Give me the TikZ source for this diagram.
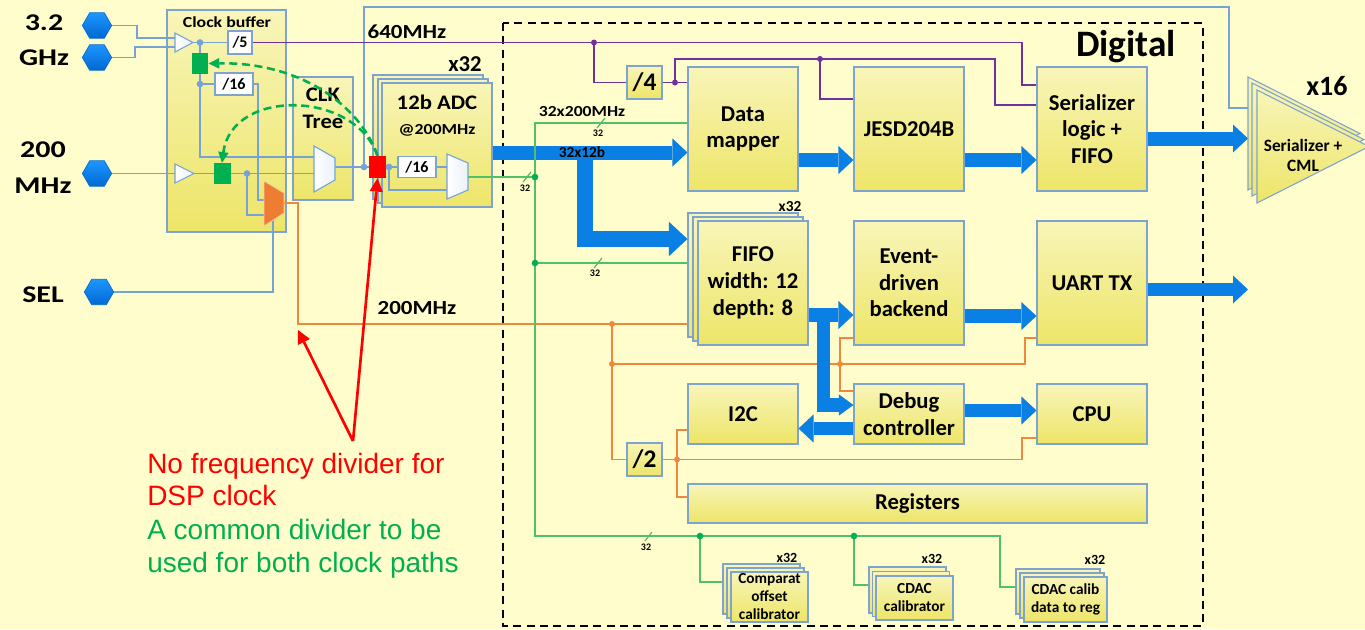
\documentclass[tikz,border=0pt]{standalone}
\usepackage{fontspec}
\setmainfont{Carlito}
\newfontfamily\arialf{Liberation Sans}
\usetikzlibrary{arrows.meta,shapes.geometric,fit,calc}

\definecolor{bgc}{RGB}{255,253,204}
\definecolor{ytop}{RGB}{248,245,185}
\definecolor{ybot}{RGB}{237,229,104}
\definecolor{boxline}{RGB}{126,163,204}
\definecolor{wireblue}{RGB}{118,163,215}
\definecolor{purp}{RGB}{112,48,160}
\definecolor{orng}{RGB}{240,135,60}
\definecolor{muxor}{RGB}{237,125,49}
\definecolor{busg}{RGB}{80,192,105}
\definecolor{dotg}{RGB}{0,176,80}
\definecolor{fatb}{RGB}{10,128,228}
\definecolor{hextop}{RGB}{30,150,255}
\definecolor{hexbot}{RGB}{0,105,210}
\definecolor{sqg}{RGB}{0,176,80}

\newcommand\fsz[2]{\fontsize{#1pt}{#2pt}\selectfont\bfseries}
\newcommand\wx[2]{\scalebox{#1}[1]{#2}}

\tikzset{
  blk/.style={draw=boxline, line width=0.8pt, top color=ytop, bottom color=ybot, inner sep=0pt},
  btxt/.style={inner sep=0pt, align=center, font=\fsz{17}{20}},
  stxt/.style={inner sep=0pt, align=center, font=\fsz{11.5}{13.5}},
  divbox/.style={draw=boxline, line width=0.8pt, fill=white, inner sep=0pt, font=\fsz{12}{14}},
  wire/.style={draw=wireblue, line width=0.9pt},
  pwire/.style={draw=purp, line width=0.8pt},
  owire/.style={draw=orng, line width=0.8pt},
  gwire/.style={draw=busg, line width=0.9pt},
  jdot/.style={circle, inner sep=0pt, minimum size=5pt},
  fat/.style={draw=fatb, line width=10.5pt, line join=miter,
    -{Triangle[length=11.25pt,width=21pt,line width=0pt]}},
  fatL/.style={draw=fatb, line width=12pt, line join=miter,
    -{Triangle[length=14pt,width=26pt,line width=0pt]}},
  hexn/.style={regular polygon, regular polygon sides=6, minimum size=22pt,
    inner sep=0pt, draw=hexbot, line width=0.5pt, top color=hextop, bottom color=hexbot},
  sq/.style={inner sep=0pt, minimum width=12.5pt, minimum height=15.75pt},
  lbl/.style={inner sep=0pt},
  tagsmall/.style={font=\fsz{7.5}{9}, inner sep=0pt},
  gate/.style={draw=wireblue, line width=0.8pt, left color=white, right color=white!85!wireblue},
  dashg/.style={draw=sqg, line width=1.9pt, dash pattern=on 6pt off 3.5pt,
    -{Triangle[length=8pt,width=8pt,line width=0pt]}},
  redarr/.style={draw=red, line width=2pt, -{Triangle[length=10pt,width=10pt,line width=0pt]}},
  note/.style={anchor=base west, inner sep=0pt, font=\arialf\fontsize{21pt}{25pt}\selectfont},
}

\begin{document}
\begin{tikzpicture}[x=0.75pt,y=-0.75pt]
\fill[bgc] (0,0) rectangle (1365,629);
\useasboundingbox (0,0) rectangle (1365,629);

% ---------- digital region ----------
\draw[black, line width=0.9pt, dash pattern=on 6pt off 4pt] (503,23) rectangle (1203,626);
\node[lbl, font=\fsz{28}{32}] (dig) at (1126,47) {Digital};

% ---------- analog front end blocks ----------
\node[blk, fit={(167,10)(286,232)}] (cbuf) {};
\node[lbl, font=\fsz{11.5}{14}] (cbuft) at (227,22) {\wx{1.16}{Clock buffer}};
\node[blk, fit={(293,77)(353,200)}] (ctree) {};
\node[lbl, font=\fsz{15.5}{20}, align=center] (ctreet) at (323,108) {\wx{1.1}{CLK}\\\wx{1.1}{Tree}};

\node[blk, fit={(373,75)(483,199)}] (adcB) {};
\node[blk, fit={(378,79)(488,203)}] (adcM) {};
\node[blk, fit={(382,83)(492,207)}] (adcF) {};
\node[lbl, font=\fsz{15.5}{19}] (adct) at (437,102) {\wx{1.1}{12b ADC}};
\node[lbl, font=\fsz{11.5}{14}] (adcf) at (437,130) {\wx{1.16}{@200MHz}};
\node[lbl, font=\fsz{17}{20}] (adcx) at (465,64) {x32};

% ---------- digital blocks ----------
\node[blk, fit={(688,67)(798,191)}] (dm) {};
\node[btxt] at (dm.center) {Data\\mapper};
\node[blk, fit={(854,67)(964,191)}] (jesd) {};
\node[btxt] at (jesd.center) {JESD204B};
\node[blk, fit={(1037,67)(1147,191)}] (ser) {};
\node[btxt] at (ser.center) {Serializer\\logic +\\FIFO};
\node[blk, fit={(688,213)(798,337)}] (fifoB) {};
\node[blk, fit={(693,217)(803,341)}] (fifoM) {};
\node[blk, fit={(698,221)(808,345)}] (fifoF) {};
\node[btxt] at (753,283) {FIFO\\width: 12\\depth: 8};
\node[lbl, font=\fsz{11.5}{14}] (fifox) at (790,207) {x32};
\node[blk, fit={(854,221)(964,345)}] (ev) {};
\node[btxt] at (ev.center) {Event-\\driven\\backend};
\node[blk, fit={(1037,221)(1147,345)}] (uart) {};
\node[btxt] at (uart.center) {UART TX};
\node[blk, fit={(688,384)(798,444)}] (i2c) {};
\node[btxt] at (i2c.center) {I2C};
\node[blk, fit={(854,384)(964,444)}] (dbg) {};
\node[btxt] at (dbg.center) {Debug\\controller};
\node[blk, fit={(1037,384)(1147,444)}] (cpu) {};
\node[btxt] at (cpu.center) {CPU};
\node[blk, fit={(688,484)(1147,523)}] (reg) {};
\node[btxt] at (reg.center) {Registers};
\node[blk, fit={(627,66)(662,99)}] (d4) {};
\node[btxt, font=\fsz{19}{22}] at (d4.center) {/4};
\node[blk, fit={(627,443)(662,476)}] (d2) {};
\node[btxt, font=\fsz{19}{22}] at (d2.center) {/2};

% calibrators
\node[blk, fit={(723,564)(800,614)}] (compB) {};
\node[blk, fit={(727,568)(804,618)}] (compM) {};
\node[blk, fit={(731,572)(808,622)}] (compF) {};
\node[stxt] at (compF.center) {Comparat\\offset\\calibrator};
\node[lbl, font=\fsz{10.5}{12}] (compx) at (787,558) {x32};
\node[blk, fit={(869,567)(946,613)}] (cdacB) {};
\node[blk, fit={(872.5,571.5)(949.5,616.5)}] (cdacM) {};
\node[blk, fit={(876,576)(953,620)}] (cdacF) {};
\node[stxt] at (cdacF.center) {CDAC\\calibrator};
\node[lbl, font=\fsz{10.5}{12}] (cdacx) at (932,559) {x32};
\node[blk, fit={(1016,569)(1100,614)}] (cdrB) {};
\node[blk, fit={(1020,573)(1104,618)}] (cdrM) {};
\node[blk, fit={(1024,577)(1107,622)}] (cdrF) {};
\node[stxt] at (cdrF.center) {CDAC calib\\data to reg};
\node[lbl, font=\fsz{10.5}{12}] (cdrx) at (1095,560) {x32};

% serializer + CML drivers
\foreach \dx/\dy in {0/0,4/6,9/13}
  \draw[draw=boxline, line width=0.8pt, top color=ytop, bottom color=ybot]
    (1248+\dx,77+\dy) -- (1360+\dx,133.5+\dy) -- (1248+\dx,190+\dy) -- cycle;
\node[lbl, font=\fsz{13}{15}, align=center] (cmlt) at (1303,155) {Serializer +\\CML};
\node[lbl, font=\fsz{21}{24}] (cmlx) at (1327,86) {x16};
\coordinate (cmlin) at (1248,108);
\coordinate (cmlarr) at (1248,138.5);

% ---------- clock inputs ----------
\node[hexn] (h1) at (97,25.5) {};
\node[hexn] (h2) at (97,57.5) {};
\node[hexn] (h3) at (97,173.5) {};
\node[hexn] (h4) at (99,292) {};
\node[lbl, font=\fsz{18}{20}] (t32) at (44,22.5) {\wx{1.25}{3.2}};
\node[lbl, font=\fsz{18}{20}] (tghz) at (44,57.5) {\wx{1.25}{GHz}};
\node[lbl, font=\fsz{18}{20}] (t200) at (43,150) {\wx{1.25}{200}};
\node[lbl, font=\fsz{18}{20}] (tmhz) at (43,186) {\wx{1.25}{MHz}};
\node[lbl, font=\fsz{18}{20}] (tsel) at (43,295) {\wx{1.25}{SEL}};

% divider boxes
\node[divbox, minimum width=18pt, minimum height=17.25pt] (d5) at (240,42.5) {/5};
\node[divbox, minimum width=28.5pt, minimum height=16.5pt] (d16a) at (234,84) {/16};
\node[divbox, minimum width=28.5pt, minimum height=15.75pt] (d16b) at (417,167) {/16};
% DSP clock tap marker
\node[sq, fill=red, minimum width=12.75pt, minimum height=16.5pt] (red) at (377.5,167) {};

% pin coordinates of buffers and multiplexers
\coordinate (b1a) at (175,38);   \coordinate (b1b) at (175,47);  \coordinate (b1o) at (193,42.5);
\coordinate (b2i) at (175,173.5); \coordinate (b2o) at (194,173.5);
\coordinate (cm1) at (314,157);  \coordinate (cm2) at (314,173.5); \coordinate (cmo) at (335,167);
\coordinate (om1) at (264,200);  \coordinate (om2) at (264,215);
\coordinate (omsel) at (273,220); \coordinate (omo) at (284,203);
\coordinate (am1) at (447,167);  \coordinate (am2) at (447,190); \coordinate (amo) at (468,177);

% junctions
\coordinate (bj1) at (200,42.5); \coordinate (bj2) at (200,84);
\coordinate (bj3) at (247,173.5); \coordinate (bj4) at (364,167); \coordinate (bj5) at (389,167);
\coordinate (pj1) at (594,42.5); \coordinate (pj2) at (675,82.5); \coordinate (pj3) at (820,59);
\coordinate (oj1) at (612,324); \coordinate (oj2) at (612,364);
\coordinate (oj3) at (840,364); \coordinate (oj4) at (677,459.5);
\coordinate (gj1) at (535,177); \coordinate (gj2) at (535,263);
\coordinate (gj3) at (700,536); \coordinate (gj4) at (854,536);

% ---------- 3.2 GHz / 200 MHz clock wiring ----------
\draw[wire] (h1.east) -- (137,25.5) |- (b1a);
\draw[wire] (h2.east) -- (135,57.5) |- (b1b);
\draw[wire] (b1o) -- (d5.west);
\draw[wire] (bj1) -- (200,157) -- (cm1);
\draw[wire] (bj2) -- (d16a.west);
\draw[wire] (d16a.east) -- (258,84) |- (om1);
\draw[wire] (h3.east) -- (b2i);
\draw[wire] (b2o) -- (cm2);
\draw[wire] (bj3) |- (om2);
\draw[wire] (h4.east) -| (omsel);
\draw[wire] (cmo) -- (bj4) -- (red.west);
\draw[wire] (bj4) -- (364,7) -- (1229,7) |- (cmlin);
\draw[wire] (red.east) -- (d16b.west);
\draw[wire] (d16b.east) -- (am1);
\draw[wire] (bj5) |- (am2);

% ---------- 640 MHz distribution ----------
\draw[pwire] (d5.east) -- (1022,42.5) |- ($(ser.west)+(0,-44)$);
\draw[pwire] (pj1) |- (d4.west);
\draw[pwire] (d4.east) -- (d4.east -| dm.west);
\draw[pwire] (pj2) -- (675,59) -- (995,59) |- ($(ser.west)+(0,-24)$);
\draw[pwire] (pj3) |- ($(jesd.west)+(0,-30)$);

% ---------- 200 MHz system clock ----------
\draw[owire] (omo) -- (298,203) -- (298,324) -- ($(fifoB.west)+(0,49)$);
\draw[owire] (oj1) |- (d2.west);
\draw[owire] (oj2) -- (1025,364) |- ($(uart.west)+(0,55)$);
\draw[owire] (oj3) |- ($(ev.west)+(0,55)$);
\draw[owire] (oj3) |- ($(dbg.west)+(0,-23)$);
\draw[owire] (d2.east) -- (1022,459.5) |- ($(cpu.west)+(0,24)$);
\draw[owire] (oj4) |- ($(i2c.west)+(0,16)$);
\draw[owire] (oj4) |- ($(reg.west)+(0,-6.5)$);

% ---------- buffers, multiplexers, markers ----------
\draw[gate] (175,33) -- (193,42.5) -- (175,52) -- cycle;
\draw[gate] (175,164) -- (194,173.5) -- (175,183) -- cycle;
\draw[gate] (314,146) -- (335,158) -- (335,180) -- (314,192) -- cycle;
\draw[gate] (447,154) -- (468,163) -- (468,190) -- (447,199) -- cycle;
\draw[draw=white!60!muxor, line width=0.6pt, fill=muxor] (264,181) -- (284,193) -- (284,213) -- (264,226) -- cycle;
\node[sq, fill=sqg] (g1) at (200,63.5) {};
\node[sq, fill=sqg, minimum width=12.75pt] (g2) at (222,173.5) {};

% ---------- wide data paths ----------
\coordinate (splitA) at (585,146);
\coordinate (splitB) at (823.5,311);
\coordinate (uartout) at (1248,289.5);
\draw[fat] ($(adcF.east)+(0,7.5)$) -- ($(dm.west)+(0,23.5)$);
\draw[fatL] (splitA) |- ($(fifoB.west)+(0,-36)$);
\draw[fat, line width=10pt] ($(dm.east)+(0,31)$) -- ($(jesd.west)+(0,31)$);
\draw[fat, line width=10pt] ($(jesd.east)+(0,31)$) -- ($(ser.west)+(0,31)$);
\draw[fat] ($(ser.east)+(0,9.5)$) -- (cmlarr);
\draw[fat, line width=11pt] ($(fifoF.east)+(0,32)$) -- ($(ev.west)+(0,32)$);
\draw[fat, line width=10pt, -{Triangle[length=11pt,width=16pt,line width=0pt]}] (splitB) |- ($(dbg.west)+(0,-9)$);
\draw[fat, line width=10pt] ($(dbg.west)+(0,14.5)$) -- ($(i2c.east)+(0,14.5)$);
\draw[fat] ($(ev.east)+(0,33)$) -- ($(uart.west)+(0,33)$);
\draw[fat, line width=10pt] ($(dbg.east)+(0,-3.5)$) -- ($(cpu.west)+(0,-3.5)$);
\draw[fat, line width=10pt] ($(uart.east)+(0,6.5)$) -- (uartout);
\node[lbl, font=\fsz{11.5}{14}] (w12) at (582,152.5) {32x12b};

% ---------- 32-lane ADC data bus ----------
\draw[gwire] (amo) -- (gj1);
\draw[gwire] (gj1) |- ($(dm.west)+(0,-6)$);
\draw[gwire] (gj1) -- (535,536) -- (1000,536) |- ($(cdrB.west)+(0,-4.5)$);
\draw[gwire] (gj2) -- ($(fifoB.west)+(0,-12)$);
\draw[gwire] (gj3) |- ($(compB.west)+(0,-7)$);
\draw[gwire] (gj4) |- ($(cdacB.west)+(0,-5)$);
\draw[gwire] (523,182) -- (531,172);  \node[tagsmall] (n1) at (525,188) {32};
\draw[gwire] (597,128) -- (605,118);  \node[tagsmall] (n2) at (598,133) {32};
\draw[gwire] (594,268) -- (602,258);  \node[tagsmall] (n3) at (595,273) {32};
\draw[gwire] (645,541) -- (652,532);  \node[tagsmall] (n4) at (646,547) {32};

% junction dots
\foreach \p in {bj1,bj2,bj3,bj4,bj5} \node[jdot, fill=wireblue] at (\p) {};
\foreach \p in {pj1,pj2,pj3} \node[jdot, fill=purp, minimum size=4.5pt] at (\p) {};
\foreach \p in {oj1,oj2,oj3,oj4} \node[jdot, fill=orng, minimum size=4.5pt] at (\p) {};
\foreach \p in {gj1,gj2,gj3,gj4} \node[jdot, fill=dotg] at (\p) {};

% ---------- frequency labels ----------
\node[lbl, font=\fsz{15}{18}] (f640) at (407,32) {\wx{1.15}{640MHz}};
\node[lbl, font=\fsz{11.5}{14}] (f32) at (582,112) {\wx{1.15}{32x200MHz}};
\node[lbl, font=\fsz{15}{18}] (f200) at (417,308) {\wx{1.15}{200MHz}};

% ---------- annotations ----------
\draw[dashg] (red.north) .. controls (360,105) and (300,62) .. (g1.east);
\draw[dashg] (red.north) .. controls (355,90) and (232,88) .. (g2.north);
\coordinate (rn) at (353,441);
\coordinate (rt) at (298,330);
\draw[redarr] (rn) -- (red.south);
\draw[redarr] (rn) -- (rt);
\node[note, text=red] (nt1) at (147,473) {No frequency divider for};
\node[note, text=red] (nt2) at (147,505.5) {DSP clock};
\node[note, text=sqg] (nt3) at (147,539) {A common divider to be};
\node[note, text=sqg] (nt4) at (147,572) {used for both clock paths};
\end{tikzpicture}
\end{document}
